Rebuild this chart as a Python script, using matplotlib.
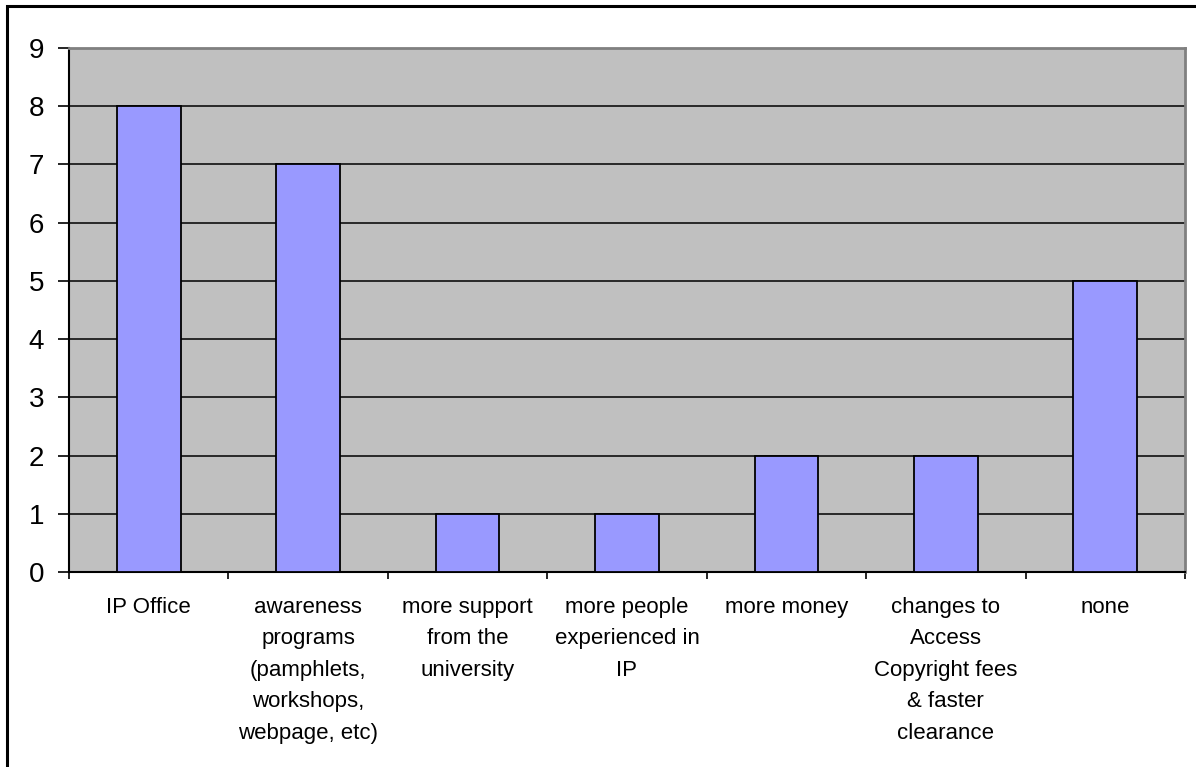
import matplotlib
matplotlib.use("Agg")
import matplotlib.pyplot as plt
from matplotlib.patches import Rectangle

plt.rcParams['font.family'] = ['Liberation Sans', 'DejaVu Sans']

categories = [
    "IP Office",
    "awareness\nprograms\n(pamphlets,\nworkshops,\nwebpage, etc)",
    "more support\nfrom the\nuniversity",
    "more people\nexperienced in\nIP",
    "more money",
    "changes to\nAccess\nCopyright fees\n& faster\nclearance",
    "none",
]
counts = [8, 7, 1, 1, 2, 2, 5]

W, H = 1196, 767
fig = plt.figure(figsize=(W / 100, H / 100), dpi=100)
ax = fig.add_axes([69 / W, 1 - 572 / H, (1185 - 69) / W, (572 - 48) / H])

# outer chart border
fig.patches.append(Rectangle((7 / W, -0.1), 1.2, 1 - 6 / H + 0.1,
                             transform=fig.transFigure, fill=False,
                             edgecolor='black', linewidth=2.2))

ax.set_facecolor('#C0C0C0')
ax.set_axisbelow(True)
ax.yaxis.grid(True, color='black', linewidth=1.1)

x = list(range(len(categories)))
ax.bar(x, counts, width=0.4, color='#9999FF', edgecolor='black', linewidth=1.3, zorder=3)

ax.set_xlim(-0.5, len(categories) - 0.5)
ax.set_ylim(0, 9)
ax.set_yticks(range(10))
ax.tick_params(axis='y', labelsize=20, length=8, width=1.2, pad=10, direction='out')

# category labels between tick marks
ax.set_xticks([i + 0.5 for i in range(-1, len(categories))])
ax.set_xticklabels([])
ax.tick_params(axis='x', length=5, width=1.2, direction='out')
for i, lab in enumerate(categories):
    ax.annotate(lab, xy=(i, 0), xytext=(0, -25), textcoords='offset pixels',
                ha='center', va='top', fontsize=16, linespacing=1.65,
                annotation_clip=False)

for side in ['left', 'bottom']:
    ax.spines[side].set_color('black')
    ax.spines[side].set_linewidth(1.5)
for side in ['top', 'right']:
    ax.spines[side].set_color('#808080')
    ax.spines[side].set_linewidth(2)

fig.savefig("out.png", dpi=100)
